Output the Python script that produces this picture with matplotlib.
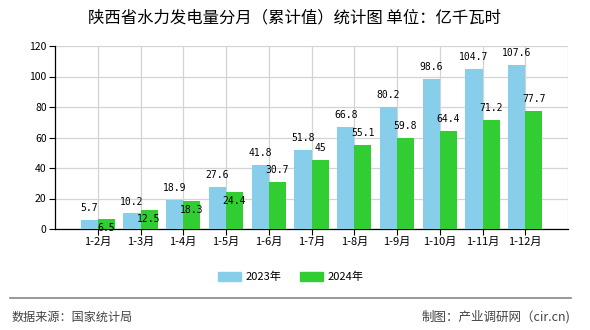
# 陕西省水力发电量分月（累计值）柱状图
import matplotlib
matplotlib.use('Agg')
import matplotlib.pyplot as plt
from matplotlib.patches import Patch
from matplotlib.lines import Line2D
import numpy as np

plt.rcParams['font.family'] = ['Noto Sans CJK SC', 'DejaVu Sans']

# 数据
months = ['1-2月', '1-3月', '1-4月', '1-5月', '1-6月', '1-7月',
          '1-8月', '1-9月', '1-10月', '1-11月', '1-12月']
y2023 = [5.7, 10.2, 18.9, 27.6, 41.8, 51.8, 66.8, 80.2, 98.6, 104.7, 107.6]
y2024 = [6.5, 12.5, 18.3, 24.4, 30.7, 45, 55.1, 59.8, 64.4, 71.2, 77.7]
labels23 = ['5.7', '10.2', '18.9', '27.6', '41.8', '51.8', '66.8', '80.2', '98.6', '104.7', '107.6']
labels24 = ['6.5', '12.5', '18.3', '24.4', '30.7', '45', '55.1', '59.8', '64.4', '71.2', '77.7']
series = ['2023年', '2024年']

c23 = '#87CEEB'
c24 = '#32CD32'

fig = plt.figure(figsize=(5.9, 3.3), dpi=100)
ax = fig.add_axes([55/590, 1-229/330, 513/590, 183/330])

x = np.arange(len(months))
w = 0.4
ax.bar(x - w/2, y2023, w, color=c23, zorder=3)
ax.bar(x + w/2, y2024, w, color=c24, zorder=3)

# 数值标签
for i in range(len(months)):
    ax.annotate(labels23[i], (x[i] - w/2, y2023[i]), xytext=(0, 8.6),
                textcoords='offset points', ha='center', va='center',
                fontsize=7, family='DejaVu Sans Mono', zorder=5)
    # 与蓝色标签太接近时放到柱子顶部下方
    dy = -6.3 if abs(y2024[i] - y2023[i]) < 5 else 8.6
    ax.annotate(labels24[i], (x[i] + w/2, y2024[i]), xytext=(0, dy),
                textcoords='offset points', ha='center', va='center',
                fontsize=7, family='DejaVu Sans Mono', zorder=5)

ax.set_xlim(-1, len(months))
ax.set_ylim(0, 120)
ax.set_yticks(np.arange(0, 121, 20))
ax.set_xticks(x)
ax.set_xticklabels(months, fontsize=8)
ax.tick_params(axis='y', labelsize=7.5, length=4, width=0.8, pad=2)
ax.tick_params(axis='x', length=4, width=0.8, pad=2)

ax.grid(True, color='#d3d3d3', linewidth=0.9, zorder=0)
ax.axvline(len(months), color='#d3d3d3', linewidth=0.9, zorder=0)
for s in ['top', 'right']:
    ax.spines[s].set_visible(False)
ax.spines['left'].set_linewidth(0.9)
ax.spines['bottom'].set_linewidth(0.9)

fig.text(295/590, 1-18/330, '陕西省水力发电量分月（累计值）统计图 单位：亿千瓦时',
         ha='center', va='center', fontsize=11.8)

handles = [Patch(color=c23), Patch(color=c24)]
fig.legend(handles, series, loc='center', bbox_to_anchor=(291/590, 1-277/330),
           ncol=2, frameon=False, fontsize=8, handlelength=2.0, handleheight=0.8,
           handletextpad=0.45, columnspacing=1.7)

fig.add_artist(Line2D([10/590, 571/590], [1-298/330, 1-298/330],
                      color='#888888', linewidth=1.2))
fig.text(12/590, 1-317/330, '数据来源：国家统计局', ha='left', va='center',
         fontsize=8.7, color='#444444')
fig.text(570/590, 1-317/330, '制图：产业调研网（cir.cn)', ha='right', va='center',
         fontsize=9, color='#444444')

fig.savefig('out.png', dpi=100)
